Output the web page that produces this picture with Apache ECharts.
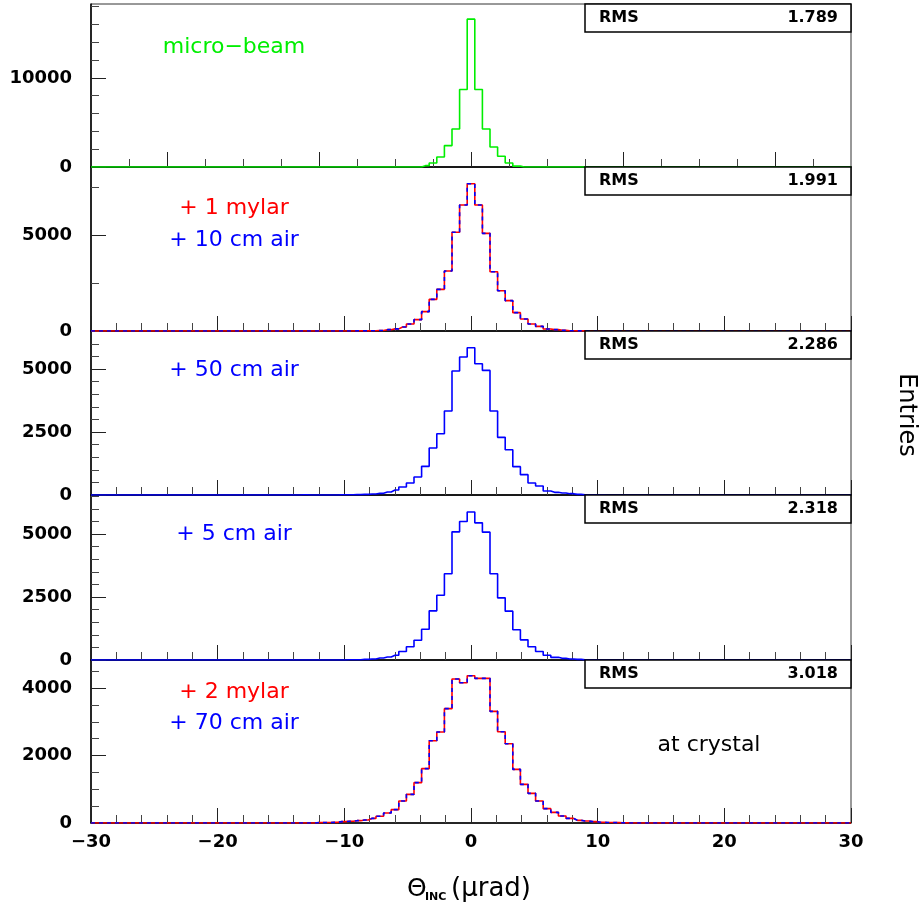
<!DOCTYPE html>
<html>
<head>
<meta charset="utf-8">
<script src="https://cdn.jsdelivr.net/npm/echarts@6/dist/echarts.min.js"></script>
<style>
  html, body { margin: 0; padding: 0; background: #fff; }
  #chart { width: 923px; height: 913px; }
</style>
</head>
<body>
<div id="chart"></div>
<script>
// bin centres: width 0.6 urad, bins k = -25..25 (everything outside is empty)
const binCenters = [];
for (let k = -25; k <= 25; k++) binCenters.push(+(k * 0.6).toFixed(1));

// entries per bin
const microBeam = [0,0,0,0,0,0,0,0,0,0, 0,0,0,0,0,0,0,0,0,
  150,450,1120,2400,4270,8700,16600,8700,4270,2250,1200,450,100,
  0,0,0,0,0,0,0,0,0,0, 0,0,0,0,0,0,0,0,0];
const mylar1Air10 = [0,0,0,0,0,0,0,0,0,0,
  5,8,15,30,70,110,209,366,592,1010,1654,2177,3135,5157,6583,7696,
  6583,5104,3100,2107,1585,958,627,366,244,105,70,35,15,8,5,
  0,0,0,0,0,0,0,0,0,0];
const air50 = [0,0,0,10,0,0,0,0,
  10,10,15,25,40,66,119,198,317,476,714,1138,1865,2434,3333,4921,5476,5845,
  5211,4947,3333,2288,1799,1125,807,476,357,159,106,79,53,25,10,10,5,
  0,0,0,0,0,0,0,0];
const air5 = [0,0,0,0,0,0,0,0,0,
  10,10,25,40,80,119,190,337,524,786,1222,1952,2571,3421,5087,5496,5873,
  5444,5075,3421,2468,1940,1198,800,524,337,190,106,66,40,25,10,5,
  0,0,0,0,0,0,0,0,0];
const mylar2Air70 = [0,0,0,0,0,
  10,15,20,40,50,69,89,138,198,296,395,652,849,1195,1610,2439,2696,3388,4267,4158,4364,
  4286,4286,3309,2706,2350,1590,1146,879,652,425,316,207,138,79,59,40,20,15,10,5,
  0,0,0,0,0];

const rmsValues = ['1.789', '1.991', '2.286', '2.318', '3.018'];

// axis ranges and ticks
const yMax = [18300, 8570, 6510, 6550, 4830];
const yMajor = [[0, 10000], [0, 5000], [0, 2500, 5000], [0, 2500, 5000], [0, 2000, 4000]];
const yMinor = [
  [2000, 4000, 6000, 8000, 12000, 14000, 16000, 18000],
  [2500, 7500],
  [500, 1000, 1500, 2000, 3000, 3500, 4000, 4500, 5500, 6000, 6500],
  [500, 1000, 1500, 2000, 3000, 3500, 4000, 4500, 5500, 6000, 6500],
  [500, 1000, 1500, 2500, 3000, 3500, 4500]
];
const xMajorTop = [-24, -12, 0, 12, 24];
const xMinorTop = [-27, -21, -18, -15, -9, -6, -3, 3, 6, 9, 15, 18, 21, 27];
const xMajor = [-30, -20, -10, 0, 10, 20, 30];
const xMinor = [-28, -26, -24, -22, -18, -16, -14, -12, -8, -6, -4, -2,
  2, 4, 6, 8, 12, 14, 16, 18, 22, 24, 26, 28];

const panelTop = [4, 167, 331, 495, 660];
const panelHeight = [163, 164, 164, 165, 163];
const FONT = 'DejaVu Sans';

const grid = [], xAxis = [], yAxis = [], series = [];

panelTop.forEach((top, i) => {
  grid.push({
    left: 91, width: 760, top: top, height: panelHeight[i],
    show: true, borderColor: '#333', borderWidth: 1, backgroundColor: 'transparent'
  });
  const maj = i === 0 ? xMajorTop : xMajor;
  const mnr = i === 0 ? xMinorTop : xMinor;
  xAxis.push({
    type: 'value', gridIndex: i, position: 'bottom', min: -30, max: 30,
    axisLine: { show: true, onZero: false, lineStyle: { color: '#000', width: 1.5 } },
    axisTick: { show: true, inside: true, length: 15, customValues: maj, lineStyle: { color: '#222' } },
    axisLabel: {
      show: i === 4, customValues: xMajor, margin: 10,
      color: '#000', fontSize: 18, fontWeight: 'bold', fontFamily: FONT,
      formatter: v => (v < 0 ? '\u2212' + (-v) : '' + v)
    },
    splitLine: { show: false }
  });
  xAxis.push({
    type: 'value', gridIndex: i, position: 'bottom', min: -30, max: 30,
    axisLine: { show: false, onZero: false },
    axisTick: { show: true, inside: true, length: 8, customValues: mnr, lineStyle: { color: '#444' } },
    axisLabel: { show: false },
    splitLine: { show: false }
  });
  yAxis.push({
    type: 'value', gridIndex: i, position: 'left', min: 0, max: yMax[i],
    axisLine: { show: true, onZero: false, lineStyle: { color: '#000', width: 1.5 } },
    axisTick: { show: true, inside: true, length: 15, customValues: yMajor[i], lineStyle: { color: '#222' } },
    axisLabel: {
      customValues: yMajor[i], margin: 19, color: '#000',
      fontSize: 18, fontWeight: 'bold', fontFamily: FONT,
      formatter: v => String(v)
    },
    splitLine: { show: false }
  });
  yAxis.push({
    type: 'value', gridIndex: i, position: 'left', min: 0, max: yMax[i],
    axisLine: { show: false, onZero: false },
    axisTick: { show: true, inside: true, length: 8, customValues: yMinor[i], lineStyle: { color: '#444' } },
    axisLabel: { show: false },
    splitLine: { show: false }
  });
});

function histData(vals) {
  return [[-30, 0]].concat(binCenters.map((c, j) => [c, vals[j]]), [[30, 0]]);
}
function hist(i, vals, color, dashed) {
  return {
    type: 'line', xAxisIndex: 2 * i, yAxisIndex: 2 * i,
    step: 'middle', symbol: 'none', animation: false,
    lineStyle: { color: color, width: 1.6, type: dashed ? [4, 4] : 'solid' },
    data: histData(vals)
  };
}
series.push(hist(0, microBeam, '#00ee00'));
series.push(hist(1, mylar1Air10, '#ff0000'));
series.push(hist(1, mylar1Air10, '#0000ff', true));
series.push(hist(2, air50, '#0000ff'));
series.push(hist(3, air5, '#0000ff'));
series.push(hist(4, mylar2Air70, '#ff0000'));
series.push(hist(4, mylar2Air70, '#0000ff', true));

function label(text, x, y, color, size, align, bold, extra) {
  return Object.assign({
    type: 'text', x: x, y: y, z: 100,
    style: {
      text: text, fill: color, font: (bold ? 'bold ' : '') + size + 'px ' + FONT,
      align: align || 'center', textAlign: align || 'center',
      verticalAlign: 'middle', textVerticalAlign: 'middle'
    }
  }, extra || {});
}

const graphic = [];
panelTop.forEach((top, i) => {
  graphic.push({
    type: 'rect', z: 90,
    shape: { x: 585, y: top, width: 266, height: 28 },
    style: { fill: '#fff', stroke: '#000', lineWidth: 1.5 }
  });
  graphic.push(label('RMS', 599, top + 14, '#000', 16, 'left', true));
  graphic.push(label(rmsValues[i], 838, top + 14, '#000', 16, 'right', true));
});
graphic.push(label('micro\u2212beam', 234, 47, '#00ee00', 22));
graphic.push(label('+ 1 mylar', 234, 208, '#ff0000', 22));
graphic.push(label('+ 10 cm air', 234, 240, '#0000ff', 22));
graphic.push(label('+ 50 cm air', 234, 370, '#0000ff', 22));
graphic.push(label('+ 5 cm air', 234, 534, '#0000ff', 22));
graphic.push(label('+ 2 mylar', 234, 692, '#ff0000', 22));
graphic.push(label('+ 70 cm air', 234, 723, '#0000ff', 22));
graphic.push(label('at crystal', 709, 745, '#000', 22));
graphic.push(label('Entries', 906, 415, '#000', 24, 'center', false, { rotation: -Math.PI / 2 }));
graphic.push(label('\u0398', 407, 889, '#000', 25, 'left'));
graphic.push(label('INC', 425, 897, '#000', 11, 'left', true));
graphic.push(label('(\u03bcrad)', 451, 889, '#000', 26, 'left'));

const chart = echarts.init(document.getElementById('chart'));
chart.setOption({
  animation: false,
  grid: grid,
  xAxis: xAxis,
  yAxis: yAxis,
  series: series,
  graphic: graphic
});
</script>
</body>
</html>
